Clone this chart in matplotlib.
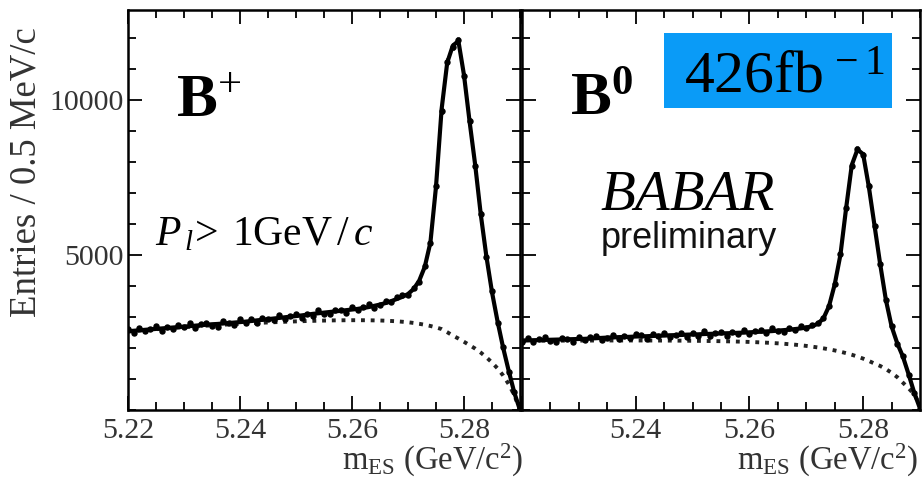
import numpy as np
import matplotlib
matplotlib.use("Agg")
import matplotlib.pyplot as plt
from matplotlib.patches import Rectangle
from matplotlib.ticker import MultipleLocator

plt.rcParams['font.family'] = ['Liberation Serif', 'DejaVu Serif']
plt.rcParams['mathtext.fontset'] = 'custom'
plt.rcParams['mathtext.rm'] = 'Liberation Serif'
plt.rcParams['mathtext.it'] = 'Liberation Serif:italic'
plt.rcParams['mathtext.bf'] = 'Liberation Serif:bold'

# bin centres, 1 MeV steps from 5.220 to 5.290 GeV/c^2
mes = np.round(np.arange(5.220, 5.2905, 0.001), 3)

# B+ : data, total fit, background (dotted)
bplus_data = [2600, 2485, 2660, 2545, 2620, 2695, 2540, 2675, 2600, 2745,
              2670, 2795, 2640, 2775, 2810, 2715, 2685, 2870, 2815, 2750,
              2925, 2820, 2920, 2800, 2980, 2920, 2890, 3060, 2950, 3040,
              3110, 2970, 3095, 3040, 3210, 3110, 3090, 3240, 3240, 3130,
              3310, 3210, 3320, 3410, 3300, 3380, 3530, 3470, 3630, 3710,
              3710, 3920, 4140, 4650, 5380, 7230, 9650, 11230, 11720, 11930,
              10760, 9330, 7860, 6330, 4920, 3830, 2820, 2030, 1220, 580, 20]
bplus_fit = [2540, 2555, 2570, 2585, 2600, 2615, 2630, 2645, 2660, 2675,
             2690, 2705, 2720, 2735, 2750, 2765, 2775, 2790, 2805, 2820,
             2835, 2850, 2870, 2890, 2910, 2930, 2950, 2970, 2990, 3010,
             3030, 3050, 3075, 3100, 3120, 3140, 3160, 3180, 3200, 3220,
             3240, 3260, 3290, 3320, 3360, 3400, 3450, 3510, 3580, 3650,
             3740, 3900, 4170, 4620, 5400, 7200, 9700, 11200, 11750, 11900,
             10800, 9300, 7900, 6300, 4950, 3800, 2850, 2000, 1250, 550, 0]
bplus_bkg = [2530, 2545, 2560, 2575, 2590, 2605, 2620, 2632, 2645, 2658,
             2670, 2683, 2695, 2708, 2720, 2730, 2740, 2750, 2760, 2770,
             2780, 2790, 2800, 2808, 2815, 2823, 2830, 2838, 2845, 2852,
             2858, 2864, 2870, 2875, 2880, 2884, 2888, 2891, 2893, 2895,
             2896, 2896, 2895, 2893, 2890, 2886, 2880, 2871, 2860, 2846,
             2830, 2807, 2780, 2748, 2710, 2663, 2610, 2510, 2400, 2305,
             2200, 2090, 1980, 1850, 1700, 1530, 1340, 1110, 830, 470, 0]

# B0 : data, total fit, background (dotted)
bzero_data = [2190, 2325, 2180, 2285, 2350, 2225, 2190, 2335, 2300, 2195,
              2360, 2265, 2355, 2395, 2265, 2325, 2430, 2280, 2395, 2310,
              2450, 2405, 2290, 2450, 2375, 2490, 2350, 2425, 2490, 2350,
              2475, 2400, 2540, 2385, 2480, 2530, 2385, 2530, 2460, 2575,
              2445, 2545, 2595, 2485, 2635, 2540, 2505, 2650, 2570, 2710,
              2630, 2750, 2790, 2960, 3340, 4070, 5020, 6520, 7880, 8420,
              8230, 7220, 5930, 4720, 3540, 2720, 2130, 1740, 1130, 560, 40]
bzero_fit = [2240, 2245, 2250, 2255, 2260, 2265, 2270, 2275, 2280, 2285,
             2290, 2295, 2305, 2315, 2325, 2335, 2340, 2350, 2355, 2360,
             2370, 2375, 2380, 2390, 2395, 2400, 2410, 2415, 2420, 2430,
             2435, 2440, 2450, 2455, 2460, 2470, 2475, 2480, 2490, 2495,
             2505, 2515, 2525, 2535, 2545, 2560, 2575, 2590, 2610, 2630,
             2660, 2700, 2780, 2950, 3350, 4050, 5000, 6500, 7900, 8400,
             8250, 7200, 5950, 4700, 3550, 2700, 2150, 1720, 1150, 550, 50]
bzero_bkg = [2230, 2231, 2232, 2233, 2234, 2235, 2236, 2237, 2238, 2238,
             2239, 2240, 2240, 2241, 2241, 2242, 2242, 2242, 2242, 2242,
             2242, 2242, 2241, 2241, 2240, 2239, 2238, 2237, 2236, 2234,
             2232, 2230, 2228, 2225, 2222, 2219, 2215, 2211, 2206, 2201,
             2195, 2188, 2180, 2171, 2161, 2150, 2137, 2122, 2106, 2088,
             2067, 2044, 2018, 1989, 1957, 1921, 1880, 1834, 1782, 1723,
             1657, 1582, 1497, 1420, 1320, 1200, 1060, 880, 700, 500, 150]

W, H = 922, 483
fig = plt.figure(figsize=(W / 100, H / 100), dpi=100)


def px_axes(x0, x1, y0, y1):
    return fig.add_axes([x0 / W, 1 - y1 / H, (x1 - x0) / W, (y1 - y0) / H])


ax1 = px_axes(128, 520, 10, 410)
ax2 = px_axes(522, 920, 10, 410)

tick_col = '#333333'
for ax, data, fit, bkg, xl in [(ax1, bplus_data, bplus_fit, bplus_bkg, 1.008),
                               (ax2, bzero_data, bzero_fit, bzero_bkg, 0.995)]:
    err = np.sqrt(np.array(data, dtype=float))
    ax.errorbar(mes, data, yerr=err, fmt='o', ms=3.6, color='black',
                elinewidth=2.2, capsize=0, zorder=3)
    ax.plot(mes, fit, color='black', lw=3.0, zorder=4)
    ax.plot(mes, bkg, color='#222222', lw=2.8, ls=(0, (1, 1.5)), zorder=2)
    ax.set_xlim(5.22, 5.29)
    ax.set_ylim(0, 12900)
    ax.xaxis.set_major_locator(MultipleLocator(0.02))
    ax.xaxis.set_minor_locator(MultipleLocator(0.005))
    ax.yaxis.set_major_locator(MultipleLocator(5000))
    ax.yaxis.set_minor_locator(MultipleLocator(1000))
    ax.tick_params(which='both', direction='in', top=True, right=True,
                   width=1.3, colors='black', labelcolor=tick_col,
                   labelsize=21.5)
    ax.tick_params(which='major', length=10)
    ax.tick_params(which='minor', length=5.5)
    ax.tick_params(axis='x', pad=6)
    ax.tick_params(axis='y', pad=3)
    for s in ax.spines.values():
        s.set_linewidth(1.8)
    ax.set_xticks([5.22, 5.24, 5.26, 5.28])
    ax.text(xl, -0.15, r'm$_{\rm ES}$ (GeV/c$^{2}$)', transform=ax.transAxes,
            ha='right', va='baseline', fontsize=23.5, color=tick_col)

ax1.set_xticklabels(['5.22', '5.24', '5.26', '5.28'])
ax2.set_xticklabels(['', '5.24', '5.26', '5.28'])
ax1.set_yticks([5000, 10000])
ax1.set_yticklabels(['5000', '10000'])
ax2.set_yticks([5000, 10000])
ax2.set_yticklabels(['', ''])

fig.text(26 / W, 1 - 172 / H, 'Entries / 0.5 MeV/c', rotation=90,
         ha='center', va='center', fontsize=26.5, color=tick_col)

# panel labels
ax1.text(0.122, 0.7325, r'$\mathbf{B}^{+}$', transform=ax1.transAxes,
         fontsize=44, ha='left', va='baseline')
ax1.text(0.069, 0.412, r'$P_{\,l}\!>\;\mathrm{1GeV}\,/\,c$',
         transform=ax1.transAxes, fontsize=30, ha='left', va='baseline')
ax2.text(0.121, 0.7375, r'$\mathbf{B}^{\mathbf{0}}$', transform=ax2.transAxes,
         fontsize=44, ha='left', va='baseline')

ax2.add_patch(Rectangle((0.357, 0.754), 0.572, 0.189, transform=ax2.transAxes,
                        facecolor='#0A9BF7', edgecolor='none', zorder=5))
ax2.text(0.408, 0.792, r'$\mathrm{426fb}^{\,-1}$', transform=ax2.transAxes,
         fontsize=43, ha='left', va='baseline', zorder=6)

ax2.text(0.196, 0.50, 'BABAR', transform=ax2.transAxes, fontsize=41,
         style='italic', ha='left', va='baseline')
ax2.text(0.198, 0.404, 'preliminary', transform=ax2.transAxes,
         fontsize=26, family='Liberation Sans', color='#111111',
         ha='left', va='baseline')

fig.savefig('out.png', dpi=100)
